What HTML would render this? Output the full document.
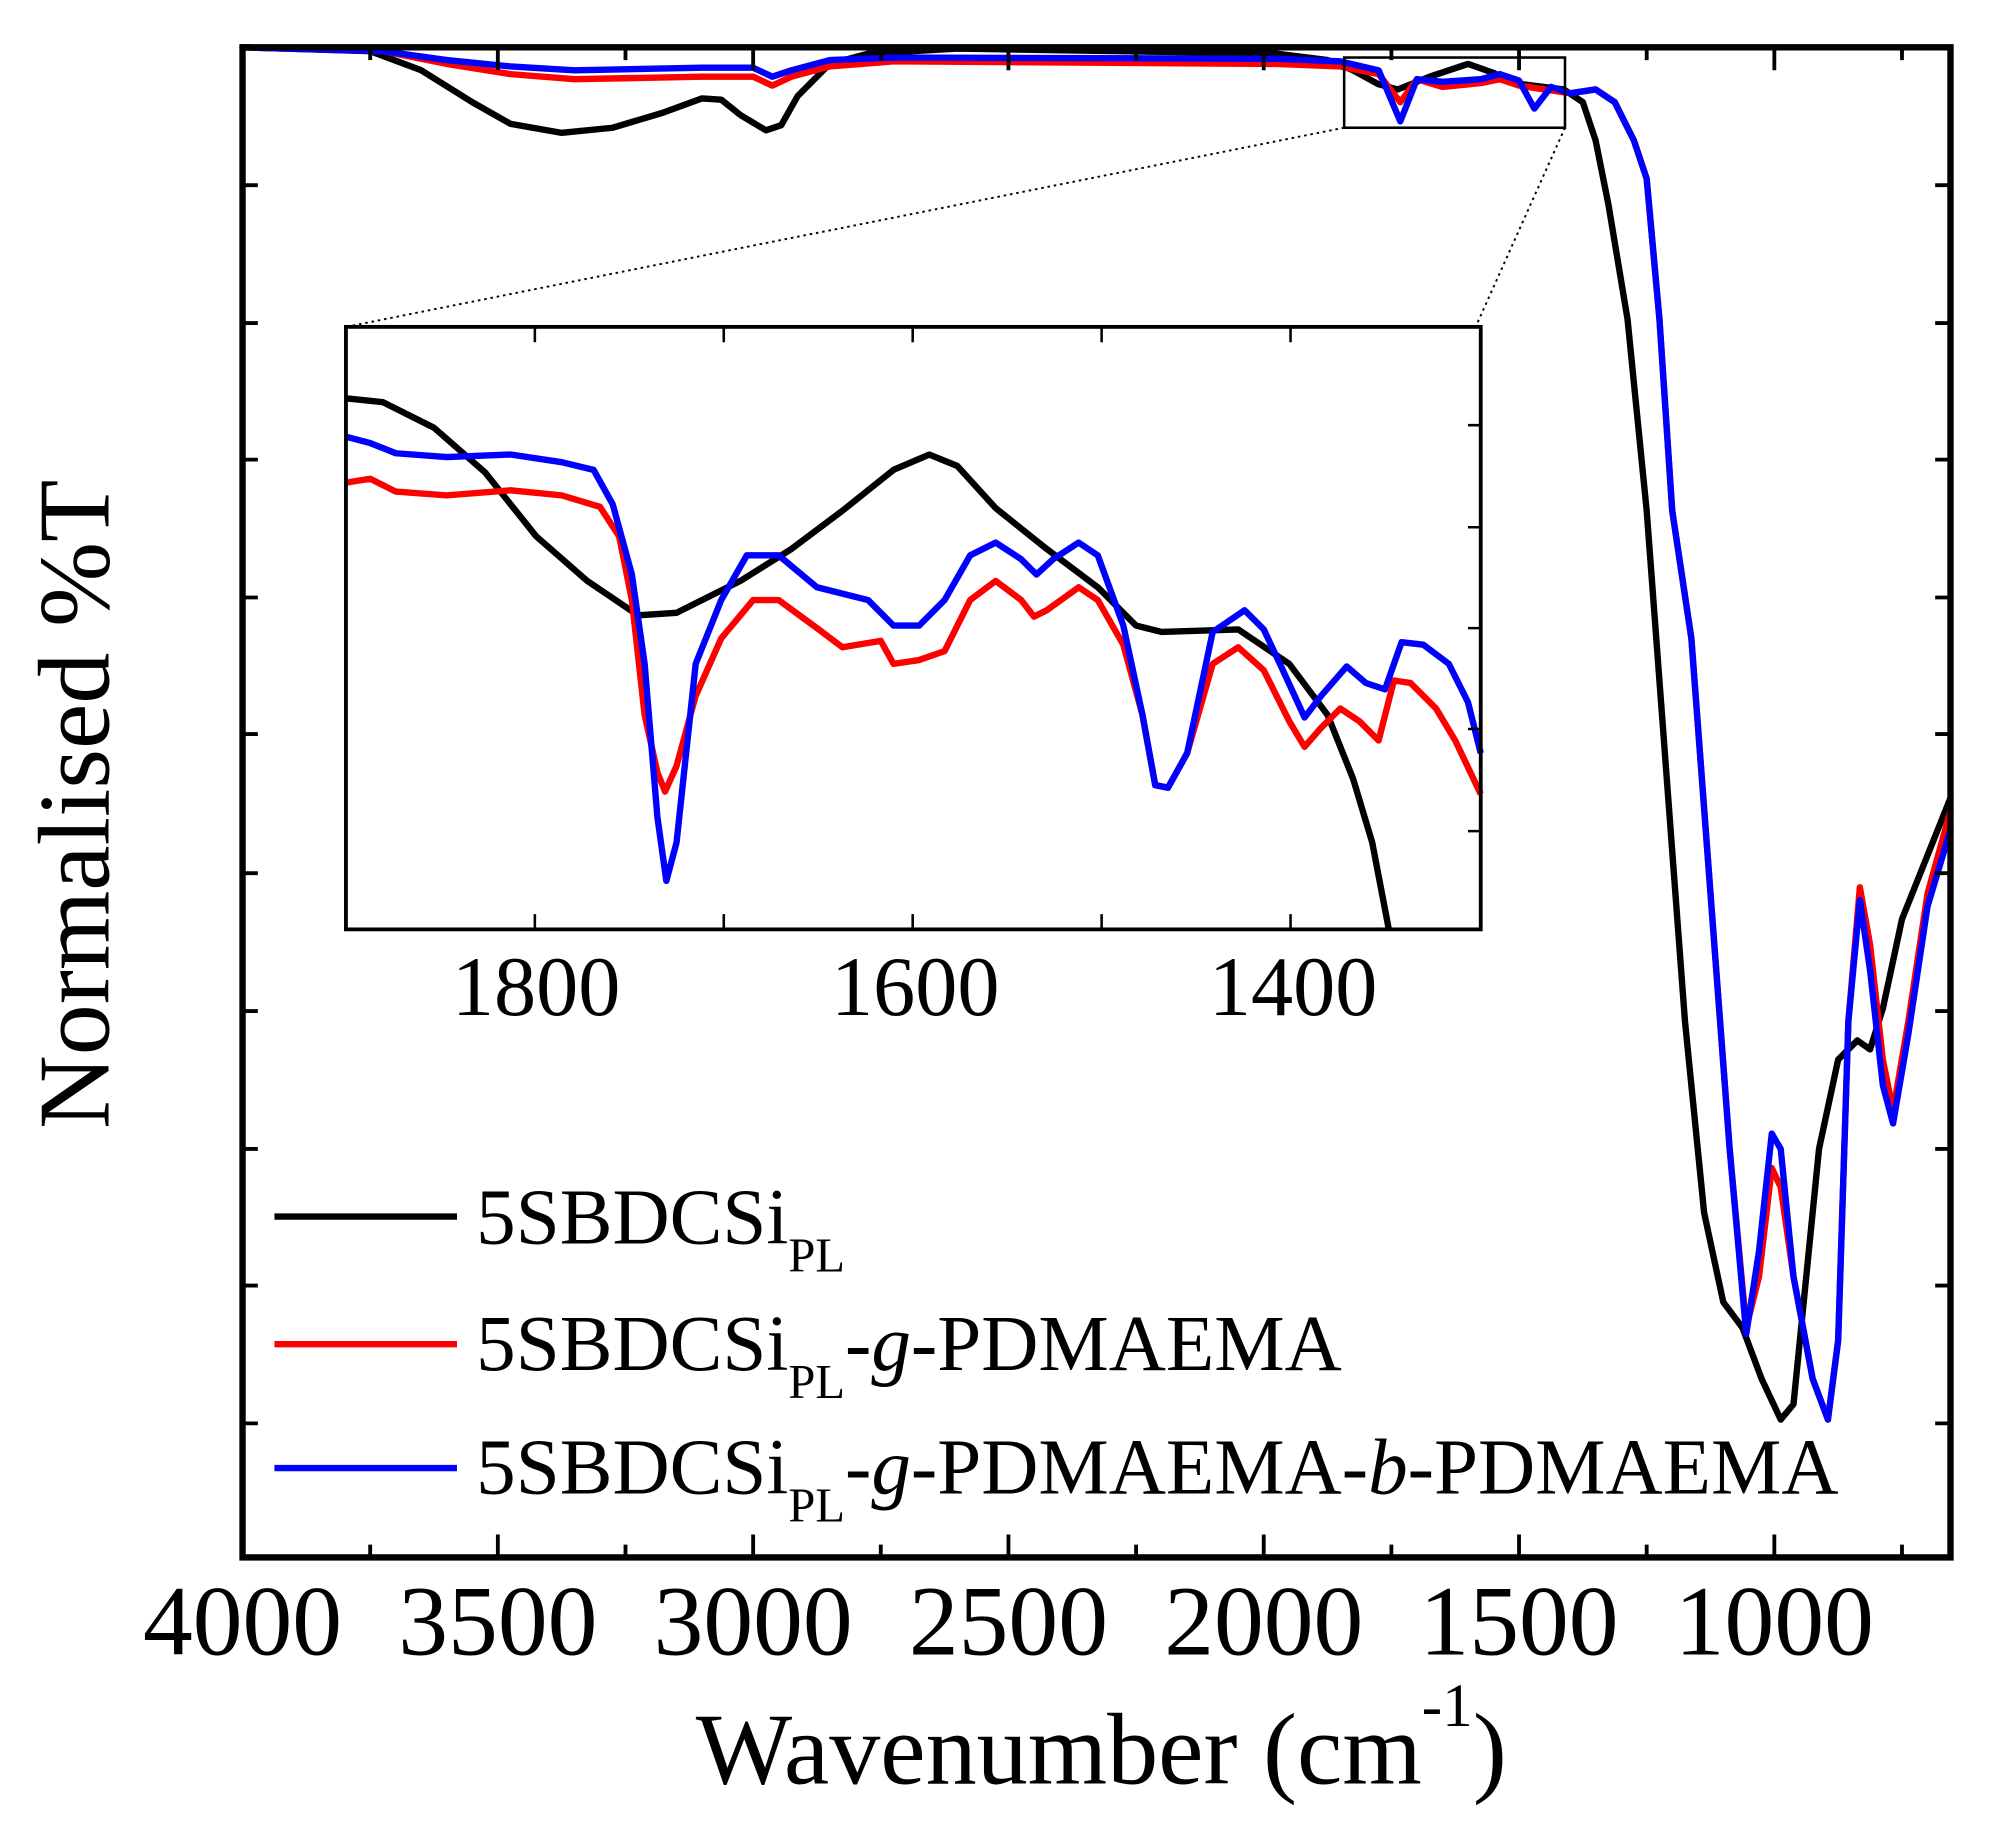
<!DOCTYPE html>
<html><head><meta charset="utf-8"><style>html,body{margin:0;padding:0;background:#fff}svg{display:block}</style></head>
<body>
<svg width="1999" height="1846" viewBox="0 0 1566 1446" xmlns="http://www.w3.org/2000/svg" font-family="Liberation Serif, serif">
<rect width="1566" height="1446" fill="#fff"/>
<g fill="none" stroke-width="5" stroke-linejoin="round" stroke-linecap="round">
<polyline stroke="#000" points="190,37 290,40 330,55 370,80 400,97 440,104 480,100 520,88 550,77 565,78 580,90 600,102 612,98 625,75 650,50 680,42 750,38 1000,42 1040,47 1060,55 1080,66 1095,70 1120,60 1150,50 1170,57 1185,65 1225,70 1240,80 1250,110 1260,160 1275,250 1290,400 1305,600 1320,800 1335,950 1350,1020 1365,1040 1380,1080 1395,1112 1405,1100 1415,1000 1425,900 1440,830 1455,815 1465,822 1475,790 1490,720 1510,670 1528,625"/>
<polyline stroke="#f00" points="190,37 300,40 350,50 400,58 450,62 550,60 590,60 605,67 620,60 650,52 700,48 1000,50 1050,52 1080,58 1097,80 1110,62 1130,68 1160,65 1175,62 1190,67 1210,70 1230,73 1250,70 1265,80 1280,110 1290,140 1300,250 1310,400 1325,500 1340,700 1355,900 1368,1040 1378,1000 1388,915 1395,930 1405,1000 1420,1080 1432,1112 1440,1050 1448,800 1457,695 1465,740 1475,830 1483,870 1495,800 1510,700 1528,635"/>
<polyline stroke="#00f" points="190,37 300,40 350,47 400,52 450,55 550,53 590,53 605,60 620,55 650,47 700,45 1000,46 1050,48 1080,55 1097,95 1110,62 1130,64 1160,62 1175,58 1190,63 1202,85 1215,68 1230,73 1250,70 1265,80 1280,110 1290,140 1300,250 1310,400 1325,500 1340,700 1355,900 1368,1045 1378,980 1388,888 1395,900 1405,1000 1420,1080 1432,1112 1440,1050 1448,800 1457,705 1465,760 1475,850 1483,880 1495,810 1510,710 1528,650"/>
</g>
<rect x="190" y="37" width="1338" height="1183" fill="none" stroke="#000" stroke-width="5"/>
<g stroke="#000" stroke-width="3">
<path d="M390,1220v-18M590,1220v-18M790,1220v-18M990,1220v-18M1190,1220v-18M1390,1220v-18M290,1220v-10M490,1220v-10M690,1220v-10M890,1220v-10M1090,1220v-10M1290,1220v-10M1490,1220v-10"/>
<path d="M390,37v18M590,37v18M790,37v18M990,37v18M1190,37v18M1390,37v18M290,37v10M490,37v10M690,37v10M890,37v10M1090,37v10M1290,37v10M1490,37v10"/>
<path d="M190,145h12M190,253h12M190,360h12M190,468h12M190,575h12M190,684h12M190,792h12M190,900h12M190,1007h12M190,1115h12"/>
<path d="M1528,145h-12M1528,253h-12M1528,360h-12M1528,468h-12M1528,575h-12M1528,684h-12M1528,792h-12M1528,900h-12M1528,1007h-12M1528,1115h-12"/>
</g>
<rect x="1053" y="45" width="173" height="55" fill="none" stroke="#000" stroke-width="2"/>
<path d="M1053,100L271,256M1226,100L1156,256" stroke="#000" stroke-width="1.5" stroke-dasharray="2,3"/>
<rect x="271" y="256" width="889" height="472" fill="#fff"/>
<g fill="none" stroke-width="5" stroke-linejoin="round">
<polyline stroke="#000" points="271,312 300,315 340,335 380,370 420,420 460,455 500,482 530,480 580,455 620,430 660,400 700,368 728,356 750,365 780,398 820,430 860,460 890,490 910,495 970,493 1010,520 1040,560 1060,610 1075,660 1088,728"/>
<polyline stroke="#f00" points="271,378 290,375 310,385 350,388 400,384 440,388 470,397 485,420 495,470 505,560 515,605 521,620 530,600 545,545 565,500 590,470 610,470 640,492 660,507 690,502 700,520 720,517 740,510 760,470 780,455 800,470 810,483 820,478 845,460 860,470 880,505 895,560 905,615 915,617 930,590 950,520 970,507 990,525 1010,565 1022,585 1035,570 1050,555 1065,565 1080,580 1092,533 1105,535 1125,555 1140,580 1160,622"/>
<polyline stroke="#00f" points="271,342 290,347 310,355 350,358 400,356 440,362 465,368 480,395 495,450 505,520 515,640 522,690 530,660 545,520 565,470 585,435 610,435 640,460 680,470 700,490 720,490 740,470 760,435 780,425 800,438 812,450 825,438 845,425 860,435 880,490 895,560 905,615 915,617 930,590 950,495 975,478 990,493 1005,525 1022,562 1035,545 1055,522 1070,535 1085,540 1098,503 1115,505 1135,520 1150,550 1160,590"/>
</g>
<rect x="271" y="256" width="889" height="472" fill="none" stroke="#000" stroke-width="3"/>
<g stroke="#000" stroke-width="2">
<path d="M419,256v12M567,256v12M715,256v12M863,256v12M1011,256v12M419,728v-12M567,728v-12M715,728v-12M863,728v-12M1011,728v-12"/>
<path d="M1160,333h-10M1160,413h-10M1160,492h-10M1160,571h-10M1160,651h-10"/>
</g>
<g font-size="66" text-anchor="middle" fill="#000">
<text x="420" y="795">1800</text><text x="717" y="795">1600</text><text x="1013" y="795">1400</text>
</g>
<g font-size="78" text-anchor="middle" fill="#000">
<text x="190" y="1296">4000</text><text x="390" y="1296">3500</text><text x="590" y="1296">3000</text><text x="790" y="1296">2500</text><text x="990" y="1296">2000</text><text x="1190" y="1296">1500</text><text x="1390" y="1296">1000</text>
</g>
<text x="545" y="1397" font-size="80" fill="#000">Wavenumber (cm<tspan font-size="48" dy="-45">-1</tspan><tspan dy="45">)</tspan></text>
<text transform="translate(85,630) rotate(-90)" font-size="80" text-anchor="middle" fill="#000">Normalised %T</text>
<g stroke-width="5"><path d="M215,953H358" stroke="#000"/><path d="M215,1053H358" stroke="#f00"/><path d="M215,1150H358" stroke="#00f"/></g>
<g font-size="62" fill="#000">
<text x="373" y="974">5SBDCSi<tspan font-size="38" dy="22">PL</tspan></text>
<text x="373" y="1073">5SBDCSi<tspan font-size="38" dy="22">PL</tspan><tspan dy="-22">-</tspan><tspan font-style="italic">g</tspan>-PDMAEMA</text>
<text x="373" y="1170">5SBDCSi<tspan font-size="38" dy="22">PL</tspan><tspan dy="-22">-</tspan><tspan font-style="italic">g</tspan>-PDMAEMA-<tspan font-style="italic">b</tspan>-PDMAEMA</text>
</g>
</svg>
</body></html>
